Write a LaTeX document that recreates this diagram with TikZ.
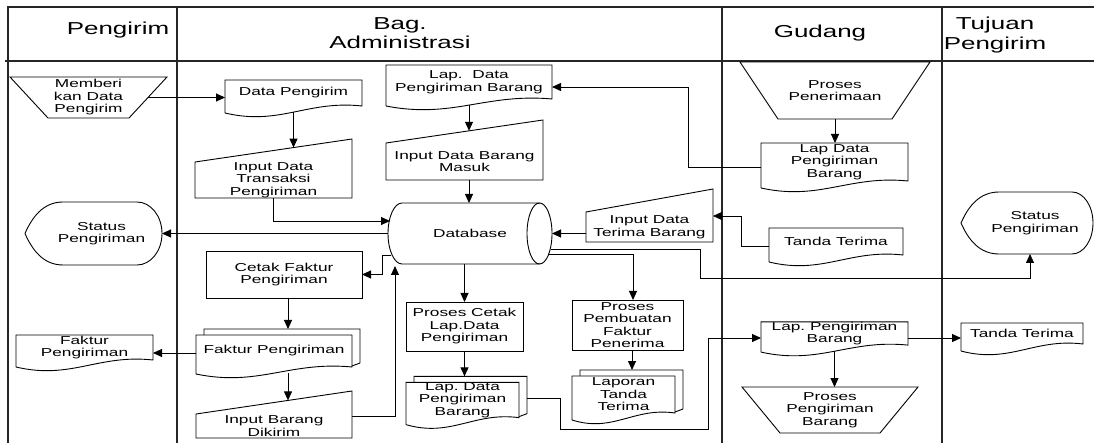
\documentclass[tikz,border=0pt]{standalone}
\usepackage{fontspec}
\newfontfamily\af{Liberation Sans}[FakeStretch=1.5]
\usetikzlibrary{arrows.meta,calc}
\tikzset{
  shp/.style={draw=black, line width=0.9pt, line join=miter},
  frame/.style={draw=black!85, line width=1.3pt},
  arr/.style={draw=black, line width=0.9pt, -{Triangle[length=9pt,width=8pt]}},
  lbl/.style={align=center, inner sep=0pt, outer sep=0pt, font=\af\fontsize{11.5}{12.5}\selectfont},
  hdr/.style={align=center, inner sep=0pt, font=\af\fontsize{17.3}{19.5}\selectfont},
  proc/.style={lbl, shp, rectangle},
}
% document outline (wavy bottom)
\newcommand\docout[1]{\draw[shp] ($(#1.south west)+(0,7)$) -- (#1.north west) -- (#1.north east) -- (#1.south east)
  .. controls ($(#1.south east)!0.4!(#1.south west)+(0,-6)$) and ($(#1.south west)!0.4!(#1.south east)+(0,20)$) .. ($(#1.south west)+(0,7)$);}
% back sheet of a multi-document
\newcommand\backsheet[1]{\draw[shp] ($(#1.north west)+(8,0)$) -- ++(0,-6) -- ($(#1.north east)+(8,-6)$) -- ($(#1.south east)+(8,-4)$) -- ($(#1.south east)+(0,-1)$);}
% manual input
\newcommand\minput[1]{\draw[shp] (#1.south west) -- (#1.north west) -- ($(#1.north east)+(0,-23)$) -- (#1.south east) -- cycle;}
% manual operation
\newcommand\manop[1]{\draw[shp] (#1.north west) -- (#1.north east) -- ($(#1.south east)+(-38,0)$) -- ($(#1.south west)+(38,0)$) -- cycle;}
% display
\newcommand\dispout[4]{\draw[shp] ($(#1.west)+(-16,0)$) .. controls ($(#1.west)+(-9,-16)$) and ($(#1.north west)+(2,0)$) .. ($(#1.north west)+(22,0)$)
   -- ($(#1.north east)+(-#2,0)$) .. controls ($(#1.north east)+(-#2+#3,0)$) and ($(#1.east)+(0,-#4)$) .. (#1.east)
   .. controls ($(#1.east)+(0,#4)$) and ($(#1.south east)+(-#2+#3,0)$) .. ($(#1.south east)+(-#2,0)$)
   -- ($(#1.south west)+(22,0)$) .. controls ($(#1.south west)+(2,0)$) and ($(#1.west)+(-9,16)$) .. ($(#1.west)+(-16,0)$) -- cycle;}
% direct access storage
\newcommand\dbout[1]{\draw[shp] ($(#1.north east)+(-12.5,0)$) -- ($(#1.north west)+(14,0)$) .. controls ($(#1.north west)+(6.3,0)$) and ($(#1.west)+(0,-16.8)$) .. (#1.west) .. controls ($(#1.west)+(0,16.8)$) and ($(#1.south west)+(6.3,0)$) .. ($(#1.south west)+(14,0)$) -- ($(#1.south east)+(-12.5,0)$);
  \draw[shp] ($(#1.east)+(-12.5,0)$) ellipse [x radius=12.5, y radius=30.5];}
\begin{document}
\begin{tikzpicture}[x=1pt, y=-1pt]
\useasboundingbox (0,0) rectangle (1094,443);
% frame and lanes
\draw[frame] (8,443) -- (8,7) -- (1094,7);
\draw[frame] (5,61) -- (1094,61);
\draw[frame] (177,7) -- (177,443);
\draw[frame] (722,7) -- (722,443);
\draw[frame] (942,7) -- (942,443);
% headers
\node[hdr] (hpeng) at (118,30) {Pengirim};
\node[hdr] (hadm) at (400,33) {Bag.\\Administrasi};
\node[hdr] (hgud) at (820,33) {Gudang};
\node[hdr] (htuj) at (995,35) {Tujuan\\Pengirim};
% Pengirim lane
\node[lbl, minimum width=157pt, minimum height=41pt] (memberi) at (88.5,97.5) {Memberi\\kan Data\\Pengirim};
\manop{memberi}
\node[lbl, minimum width=121pt, minimum height=63pt] (spl) at (101.5,233.5) {Status\\Pengiriman};
\dispout{spl}{25}{13.8}{17.4}
\node[lbl, minimum width=137pt, minimum height=25pt] (fpp) at (84.5,347.5) {Faktur\\Pengiriman};
\docout{fpp}
% Administrasi lane
\node[lbl, minimum width=137pt, minimum height=26pt] (dp) at (293.5,93) {Data Pengirim};
\docout{dp}
\node[lbl, minimum width=157pt, minimum height=36pt] (idt) at (273.5,180) {Input Data\\Transaksi\\Pengiriman};
\minput{idt}
\node[proc, minimum width=156pt, minimum height=47pt] (cfp) at (284,274.5) {Cetak Faktur\\Pengiriman};
\node[lbl, minimum width=156pt, minimum height=32pt] (fpa) at (274,351) {Faktur Pengiriman};
\backsheet{fpa}\docout{fpa}
\node[lbl, minimum width=156pt, minimum height=24pt] (ibd) at (274,426) {Input Barang\\Dikirim};
\minput{ibd}
\node[lbl, minimum width=166pt, minimum height=34pt] (lapadm) at (469,82) {Lap.\ \ Data\\Pengiriman Barang};
\docout{lapadm}
\node[lbl, minimum width=157pt, minimum height=37pt] (idbm) at (464.5,161.5) {Input Data Barang\\Masuk};
\minput{idbm}
\node[lbl, minimum width=164pt, minimum height=61pt] (db) at (470,233.5) {Database};
\dbout{db}
\node[proc, minimum width=117pt, minimum height=49pt] (pcl) at (464.5,326.5) {Proses Cetak\\Lap.Data\\Pengiriman};
\node[lbl, minimum width=113pt, minimum height=34pt] (ldm) at (462.5,400) {Lap.\ Data\\Pengiriman\\Barang};
\backsheet{ldm}\docout{ldm}
\node[proc, minimum width=111pt, minimum height=50pt] (ppf) at (627.5,325) {Proses\\Pembuatan\\Faktur\\Penerima};
\node[lbl, minimum width=103pt, minimum height=37pt] (ltt) at (623.5,394.5) {Laporan\\Tanda\\Terima};
\backsheet{ltt}\docout{ltt}
\node[lbl, minimum width=127pt, minimum height=30pt] (idtb) at (649.5,227) {Input Data\\Terima Barang};
\minput{idtb}
% Gudang lane
\node[lbl, minimum width=190pt, minimum height=57pt] (ppn) at (835,90.5) {Proses\\Penerimaan};
\manop{ppn}
\node[lbl, minimum width=147pt, minimum height=38pt] (lapgud) at (834.5,162) {Lap Data\\Pengiriman\\Barang};
\docout{lapgud}
\node[lbl, minimum width=134pt, minimum height=27pt] (tandag) at (836,241.5) {Tanda Terima};
\docout{tandag}
\node[lbl, minimum width=147pt, minimum height=23pt] (lappb) at (834.5,333.5) {Lap.\ Pengiriman\\Barang};
\docout{lappb}
\node[lbl, minimum width=176pt, minimum height=46pt] (ppb) at (830,410) {Proses\\Pengiriman\\Barang};
\manop{ppb}
% Tujuan lane
\node[lbl, minimum width=116pt, minimum height=62pt] (spr) at (1035,223) {Status\\Pengiriman};
\dispout{spr}{21}{11.6}{17.1}
\node[lbl, minimum width=122pt, minimum height=21pt] (tandar) at (1022,333.5) {Tanda Terima};
\docout{tandar}
% connectors
\draw[arr] ($(memberi.east)+(-19,0)$) -- (memberi.east -| dp.west);
\draw[arr, shorten >=14.4pt] ($(dp.south)+(0,6)$) -- (dp.south |- idt.north);
\draw[arr] (idt.south) |- ([xshift=2pt,yshift=12.5pt]db.west);
\draw[arr] (db.west) -- (spl.east);
\draw[arr] ([xshift=3pt,yshift=-21.5pt]db.west) -- ++(-9,0) |- (cfp.east);
\draw[arr] ([yshift=10pt]ibd.east) -| ([xshift=7pt,yshift=-32.5pt]db.west);
\draw[arr] (db.south -| pcl.north) -- (pcl.north);
\draw[arr] ([xshift=-3pt,yshift=-20.5pt]db.east) -| ([xshift=5.5pt]ppf.north);
\draw[arr] ([xshift=-1pt,yshift=-15.5pt]db.east) -| ++(149,29) -| ([xshift=-5pt]spr.south);
\draw[arr] (idtb.west |- db.east) -- (db.east);
\draw[arr] ([yshift=-4.5pt]tandag.west) -- ++(-28,0) |- ([yshift=11pt]idtb.east);
\draw[arr] ([yshift=-5pt]lapgud.west) -- ++(-73,0) |- ([yshift=-5pt]lapadm.east);
\draw[arr, shorten >=12.2pt] ($(lapadm.south)+(0,6)$) -- (lapadm.south |- idbm.north);
\draw[arr] (idbm.south -| lapadm.south) -- (db.north -| lapadm.south);
\draw[arr] (ppn.south) -- (ppn.south |- lapgud.north);
\coordinate (c16) at ($(fpa.north)+(14,-6)$);
\draw[arr] (cfp.south -| c16) -- (c16);
\coordinate (c17) at ([yshift=-2pt]fpa.west);
\draw[arr] (c17) -- (c17 -| fpp.east);
\coordinate (c18) at ($(fpa.south)+(14,6)$);
\draw[arr, shorten >=13.6pt] (c18) -- (c18 |- ibd.north);
\draw[arr, shorten >=6pt] (pcl.south) -- (pcl.south |- ldm.north);
\coordinate (c20) at ([xshift=8pt,yshift=2pt]ldm.east);
\draw[arr] (c20) -| ++(33,31) -- ++(148,0) |- ([yshift=-4.5pt]lappb.west);
\coordinate (c21) at ([xshift=4.5pt]ppf.south);
\draw[arr, shorten >=6pt] (c21) -- (c21 |- ltt.north);
\coordinate (c22) at ([yshift=-4.5pt]lappb.east);
\draw[arr] (c22) -- (c22 -| tandar.west);
\draw[arr] ($(lappb.south)+(0,6)$) -- (lappb.south |- ppb.north);
\end{tikzpicture}
\end{document}
